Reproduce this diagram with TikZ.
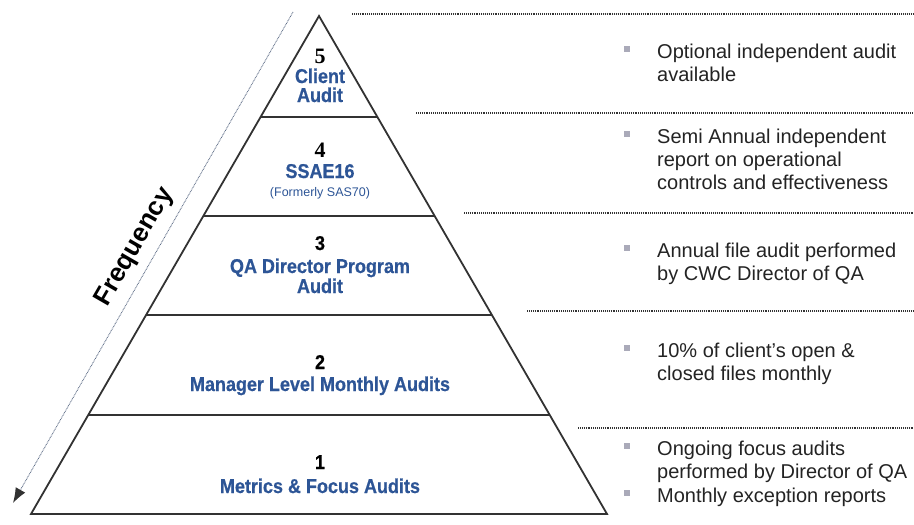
\documentclass[tikz,border=0pt]{standalone}
\usepackage{fontspec}
\setmainfont{Liberation Sans}
\newfontfamily\narrowsans[FakeStretch=0.9, BoldFeatures={FakeBold=0.6}]{Liberation Sans}
\newfontfamily\numserif{Liberation Serif}
\usetikzlibrary{arrows.meta}
\definecolor{lvlblue}{RGB}{45,85,150}
\definecolor{txtgray}{RGB}{35,35,35}
\definecolor{bulgray}{RGB}{170,170,185}
\definecolor{edgegray}{RGB}{50,50,50}

\begin{document}
\begin{tikzpicture}[x=1pt, y=-1pt,
  lvl/.style={anchor=base, inner sep=0pt, text=lvlblue, font=\narrowsans\bfseries\fontsize{20}{22}\selectfont},
  lvlnum/.style={anchor=base, inner sep=0pt, text=black, font=\narrowsans\bfseries\fontsize{20}{22}\selectfont},
  lvlnumserif/.style={anchor=base, inner sep=0pt, text=black, font=\numserif\bfseries\fontsize{22}{24}\selectfont},
  desc/.style={anchor=north west, inner sep=0pt, align=left, text=txtgray, font=\fontsize{20}{23}\selectfont},
  divider/.style={edgegray, line width=2.4pt},
  sepline/.style={edgegray, line width=1.4pt, dash pattern=on 1pt off 0.9pt}]
\useasboundingbox (0,0) rectangle (914,525);
% pyramid
\coordinate (top) at (319,16);
\coordinate (bl) at (31,514);
\coordinate (br) at (607,514);
\draw[divider] (260.6,117) -- (377.4,117);
\draw[divider] (203.4,216) -- (434.6,216);
\draw[divider] (146.2,315) -- (491.8,315);
\draw[divider] (88.4,415) -- (549.6,415);
\draw[edgegray, line width=1.8pt, line join=miter] (top) -- (br) -- (bl) -- cycle;
% level labels
\node[lvlnumserif] (n5) at (320,63) {5};
\node[lvl] (l5a) at (320,83) {Client};
\node[lvl] (l5b) at (320,102) {Audit};
\node[lvlnumserif] (n4) at (320,157) {4};
\node[lvl] (l4a) at (320,178) {SSAE16};
\node[anchor=base, inner sep=0pt, text=lvlblue, font=\fontsize{12.5}{14}\selectfont] (l4b) at (320,196) {(Formerly SAS70)};
\node[lvlnum] (n3) at (320,250) {3};
\node[lvl] (l3a) at (320,273) {QA Director Program};
\node[lvl] (l3b) at (320,293) {Audit};
\node[lvlnum] (n2) at (320,369) {2};
\node[lvl] (l2) at (320,391) {Manager Level Monthly Audits};
\node[lvlnum] (n1) at (320,469) {1};
\node[lvl] (l1) at (320,493) {Metrics \& Focus Audits};
% frequency arrow
\coordinate (fq top) at (293,12);
\coordinate (fq end) at (13,503);
\draw[lvlblue!40!gray, line width=0.9pt, dash pattern=on 0.8pt off 0.8pt,
  -{Latex[length=15pt,width=11pt,fill=edgegray,color=edgegray]}] (fq top) -- (fq end);
\node[rotate=60, inner sep=0pt, font=\bfseries\fontsize{26}{28}\selectfont] (freq) at (135,247) {Frequency};
% dotted separators
\draw[sepline] (352,14) -- (914,14);
\draw[sepline] (416,113) -- (914,113);
\draw[sepline] (464,213) -- (914,213);
\draw[sepline] (527,311) -- (914,311);
\draw[sepline] (578,428) -- (914,428);
% descriptions
\node[desc] (d5) at (657,44) {Optional independent audit\\available};
\node[desc] (d4) at (657,129) {Semi Annual independent\\report on operational\\controls and effectiveness};
\node[desc] (d3) at (657,243) {Annual file audit performed\\by CWC Director of QA};
\node[desc] (d2) at (657,343) {10\% of client's open \&\\closed files monthly};
\node[desc] (d1a) at (657,441) {Ongoing focus audits\\performed by Director of QA};
\node[desc] (d1b) at (657,488) {Monthly exception reports};
\foreach \d in {d5,d4,d3,d2,d1a,d1b}
  \fill[bulgray] ([xshift=-33pt,yshift=-2pt]\d.north west) rectangle +(6,6);
\end{tikzpicture}
\end{document}
